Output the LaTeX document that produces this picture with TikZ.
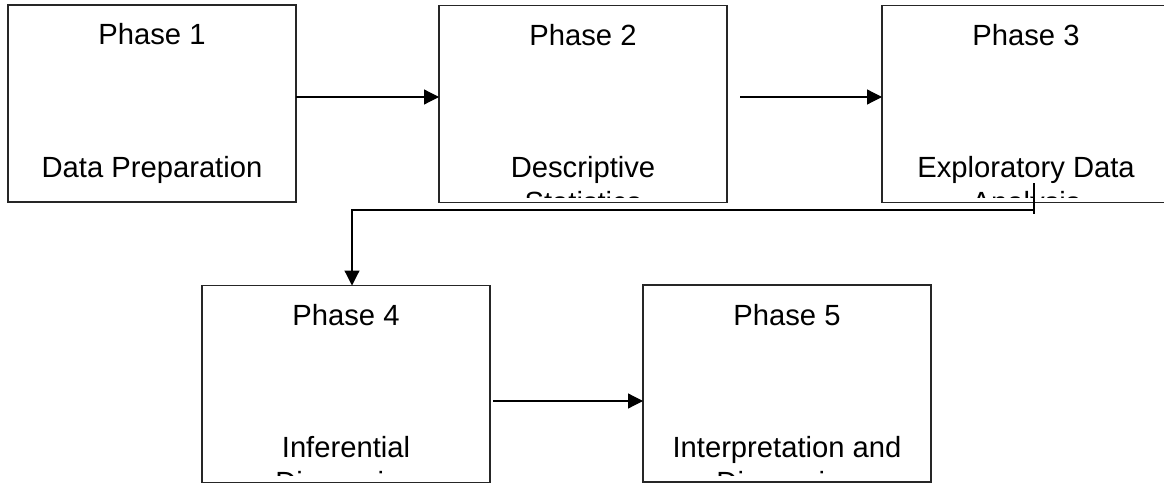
\documentclass[tikz,border=0pt]{standalone}
\usepackage{fontspec}
\setmainfont{Liberation Sans}
\usetikzlibrary{calc,arrows.meta}
\begin{document}
\begin{tikzpicture}[x=1pt,y=-1pt,
 box/.style={draw=black!85,line width=1.2pt,minimum width=288pt,minimum height=197pt,inner sep=0pt,outer sep=0pt},
 lbl/.style={anchor=base,inner sep=0pt,font=\fontsize{29.2}{35}\selectfont},
 arr/.style={line width=1.2pt,-{Triangle[length=15pt,width=15pt]}},
 ln/.style={line width=1.2pt}]
\useasboundingbox (0,0) rectangle (1164,484);
\clip (0,0) rectangle (1164,484);
% boxes
\node[box] (p1) at (152,103.5) {};
\node[box] (p2) at (583,104) {};
\node[box] (p3) at (1026,104) {};
\node[box] (p4) at (346,384) {};
\node[box] (p5) at (787,383.5) {};
% titles
\node[lbl] (t1) at ($(p1.north)+(0,40)$) {Phase 1};
\node[lbl] (t2) at ($(p2.north)+(0,40)$) {Phase 2};
\node[lbl] (t3) at ($(p3.north)+(0,40)$) {Phase 3};
\node[lbl] (t4) at ($(p4.north)+(0,40)$) {Phase 4};
\node[lbl] (t5) at ($(p5.north)+(0,40)$) {Phase 5};
% main texts
\node[lbl] (m1) at ($(p1.north)+(0,172)$) {Data Preparation};
\node[lbl] (m2) at ($(p2.north)+(0,172)$) {Descriptive};
\node[lbl] (m3) at ($(p3.north)+(0,172)$) {Exploratory Data};
\node[lbl] (m4) at ($(p4.north)+(0,172)$) {Inferential};
\node[lbl] (m5) at ($(p5.north)+(0,172)$) {Interpretation and};
% clipped second lines
\begin{scope}
\clip (p2.north west) rectangle ($(p2.south east)+(0,-5)$);
\node[lbl] (n2) at ($(p2.north)+(0,207)$) {Statistics};
\end{scope}
\begin{scope}
\clip (p3.north west) rectangle ($(p3.south east)+(0,-5)$);
\node[lbl] (n3) at ($(p3.north)+(0,207)$) {Analysis};
\end{scope}
\begin{scope}
\clip (p4.north west) rectangle ($(p4.south east)+(0,-7)$);
\node[lbl] (n4) at ($(p4.north)+(0,207)$) {Discussion};
\end{scope}
\begin{scope}
\clip (p5.north west) rectangle ($(p5.south east)+(0,-7)$);
\node[lbl] (n5) at ($(p5.north)+(0,207)$) {Discussion};
\end{scope}
% connectors
\draw[arr] ([yshift=6.5pt]p1.east) -- ([yshift=7pt]p2.west);
\draw[arr] ([xshift=13pt,yshift=7pt]p2.east) -- ([yshift=7pt]p3.west);
\draw[arr] ([xshift=3pt,yshift=-17pt]p4.east) -- ([yshift=-17.5pt]p5.west);
\coordinate (s1) at (1034,183);
\coordinate (s2) at (1034,214);
\coordinate (h) at (1034,210);
\draw[ln] (s1) -- (s2);
\draw[arr] (h) -| ([xshift=6pt]p4.north);
\end{tikzpicture}
\end{document}
